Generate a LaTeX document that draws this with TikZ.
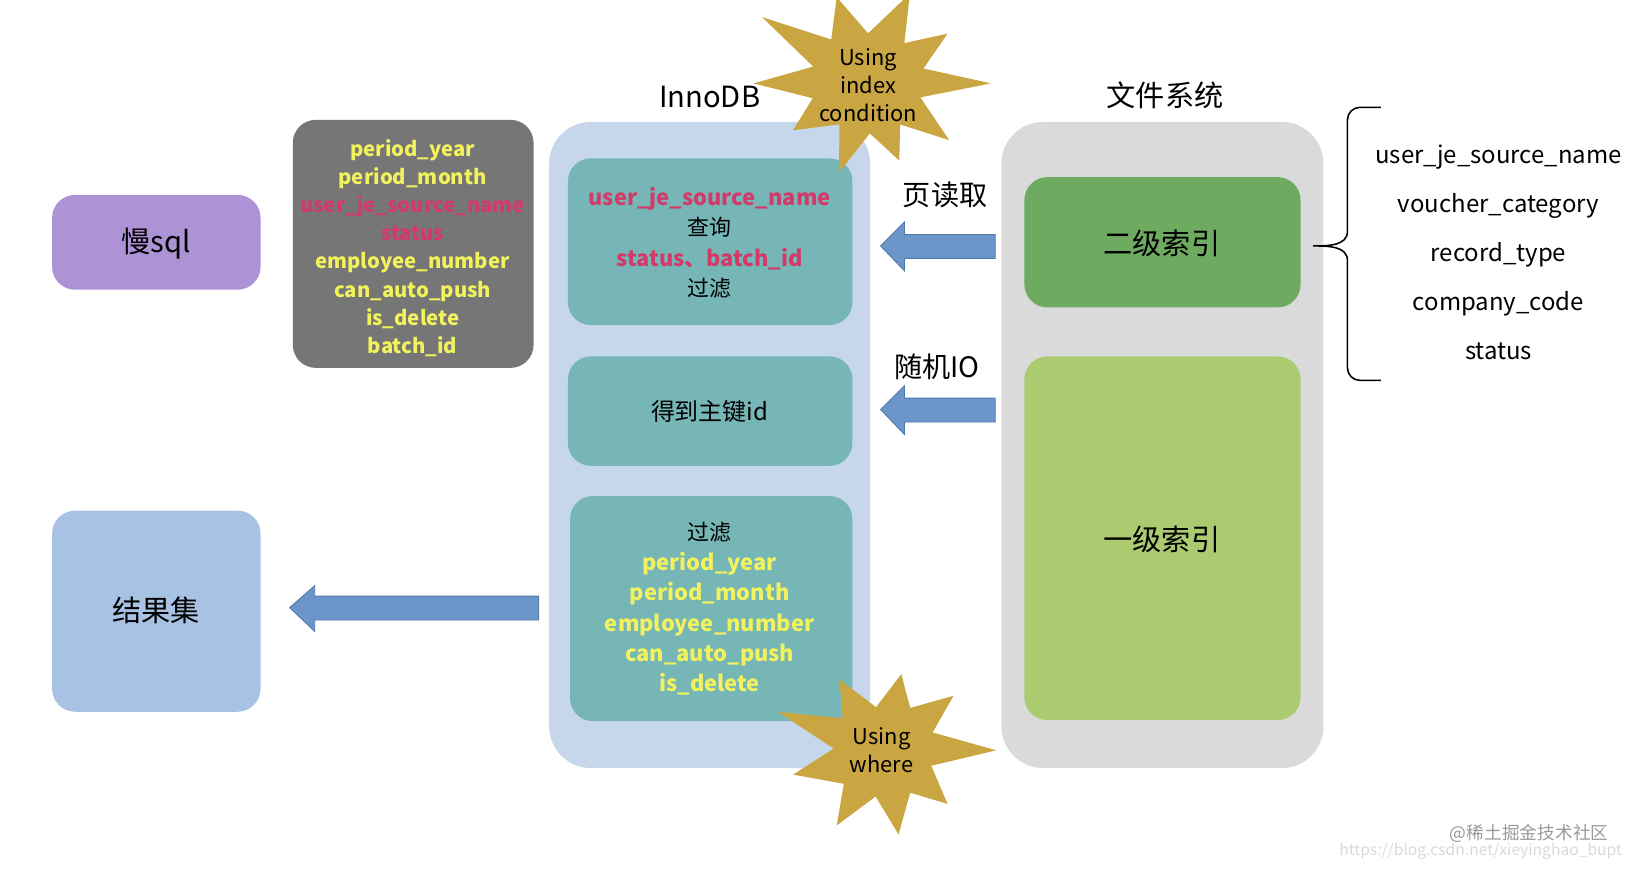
\documentclass[tikz,border=0pt]{standalone}
\usepackage{fontspec}
\setmainfont{Noto Sans CJK SC}
\definecolor{purp}{HTML}{AE92D6}
\definecolor{gbox}{HTML}{767676}
\definecolor{yel}{HTML}{F2F25C}
\definecolor{redt}{HTML}{D33A6A}
\definecolor{res}{HTML}{A8C2E3}
\definecolor{inno}{HTML}{C6D7EB}
\definecolor{teal}{HTML}{76B6B6}
\definecolor{gold}{HTML}{C9A642}
\definecolor{fsys}{HTML}{DADADA}
\definecolor{g2}{HTML}{6EAA5F}
\definecolor{g1}{HTML}{AACB6F}
\definecolor{arr}{HTML}{6C96CA}
\definecolor{arrd}{HTML}{4F76A8}
\begin{document}
\begin{tikzpicture}[x=1pt,y=-1pt,
  box/.style={rounded corners=22pt,draw=none},
  lbl/.style={font=\fontsize{21}{29}\selectfont,align=center},
  big/.style={font=\fontsize{28}{32}\selectfont},
  bar/.style={draw=arrd,fill=arr,line width=0.8pt},
]
\useasboundingbox (0,0) rectangle (1568,833);
\path[box,fill=purp] (50,187) rectangle (250,278);
\node[big] (slow) at (150,234) {慢sql};
\path[box,fill=gbox] (281,115) rectangle (512,353);
\node[lbl,font=\fontsize{19.5}{27}\selectfont\bfseries] (fields) at (396,238) {\textcolor{yel}{period\_year}\\\textcolor{yel}{period\_month}\\\textcolor{redt}{user\_je\_source\_name}\\\textcolor{redt}{status}\\\textcolor{yel}{employee\_number}\\\textcolor{yel}{can\_auto\_push}\\\textcolor{yel}{is\_delete}\\\textcolor{yel}{batch\_id}};
\path[box,fill=res] (50,490) rectangle (250,683);
\node[big] (result) at (150,586) {结果集};
\draw[bar] (517,572) -- (302,572) -- (302,562) -- (278,583) -- (302,606) -- (302,595) -- (517,595) -- cycle;
% InnoDB
\path[rounded corners=40pt,fill=inno] (527,117) rectangle (835,737);
\node[big] (innolbl) at (681,93) {InnoDB};
\path[box,fill=teal] (545,152) rectangle (818,312);
\node[lbl] (b1) at (681,233) {\textbf{\textcolor{redt}{user\_je\_source\_name}}\\查询\\\textbf{\textcolor{redt}{status、batch\_id}}\\过滤};
\path[box,fill=teal] (545,342) rectangle (818,447);
\node[lbl,font=\fontsize{23}{27}\selectfont] (b2) at (681,395) {得到主键id};
\path[box,fill=teal] (547,476) rectangle (818,692);
\node[lbl] (b3) at (681,584) {过滤\\\textbf{\textcolor{yel}{period\_year}}\\\textbf{\textcolor{yel}{period\_month}}\\\textbf{\textcolor{yel}{employee\_number}}\\\textbf{\textcolor{yel}{can\_auto\_push}}\\\textbf{\textcolor{yel}{is\_delete}}};
% starbursts
\fill[gold] (833,80) +(0:118) -- +(15:52) -- +(35:95) -- +(52:50) -- +(68:80) -- +(88:48) -- +(108:90) -- +(125:48) -- +(148:85) -- +(165:55) -- +(180:110) -- +(197:55) -- +(212:120) -- +(230:55) -- +(250:88) -- +(270:48) -- +(295:95) -- +(312:52) -- +(328:90) -- +(345:55) -- cycle;
\node[font=\fontsize{21}{27}\selectfont,align=center] (iic) at (833,82) {Using\\index\\condition};
\fill[gold] (848,720) +(0:108) -- +(18:48) -- +(40:80) -- +(58:48) -- +(80:82) -- +(100:45) -- +(122:85) -- +(140:50) -- +(165:90) -- +(182:48) -- +(200:108) -- +(218:50) -- +(238:80) -- +(260:42) -- +(283:75) -- +(302:48) -- +(322:85) -- +(340:50) -- cycle;
\node[font=\fontsize{21}{27}\selectfont,align=center] (uw) at (846,720) {Using\\where};
% file system
\path[rounded corners=40pt,fill=fsys] (961,117) rectangle (1270,737);
\node[big] (fslbl) at (1118,91) {文件系统};
\path[box,fill=g2] (983,170) rectangle (1248,295);
\node[big] (sec) at (1115,234) {二级索引};
\path[box,fill=g1] (983,342) rectangle (1248,691);
\node[big] (pri) at (1115,518) {一级索引};
\draw[bar] (955,225) -- (868,225) -- (868,213) -- (845,236) -- (868,260) -- (868,248) -- (955,248) -- cycle;
\draw[bar] (955,382) -- (868,382) -- (868,370) -- (845,393) -- (868,417) -- (868,405) -- (955,405) -- cycle;
\node[font=\fontsize{27}{30}\selectfont] (rd) at (907,187) {页读取};
\node[font=\fontsize{27}{30}\selectfont] (rio) at (899,352) {随机IO};
% brace
\draw[line width=1.5pt] (1325,103) -- (1305,103) to[out=180,in=90] (1293,115) -- (1293,222) to[out=-90,in=0] (1260,236) to[out=0,in=90] (1293,250) -- (1293,353) to[out=-90,in=180] (1305,365) -- (1325,365);
\node[lbl,font=\fontsize{23}{47}\selectfont] (cols) at (1438,242) {user\_je\_source\_name\\voucher\_category\\record\_type\\company\_code\\status};
\node[font=\fontsize{17}{18}\selectfont,text=gray!80,anchor=east] (wm) at (1547,800) {@稀土掘金技术社区};
\node[font=\fontsize{15}{16}\selectfont,text=gray!30,anchor=east] (wm2) at (1560,817) {https://blog.csdn.net/xieyinghao\_bupt};
\end{tikzpicture}
\end{document}
